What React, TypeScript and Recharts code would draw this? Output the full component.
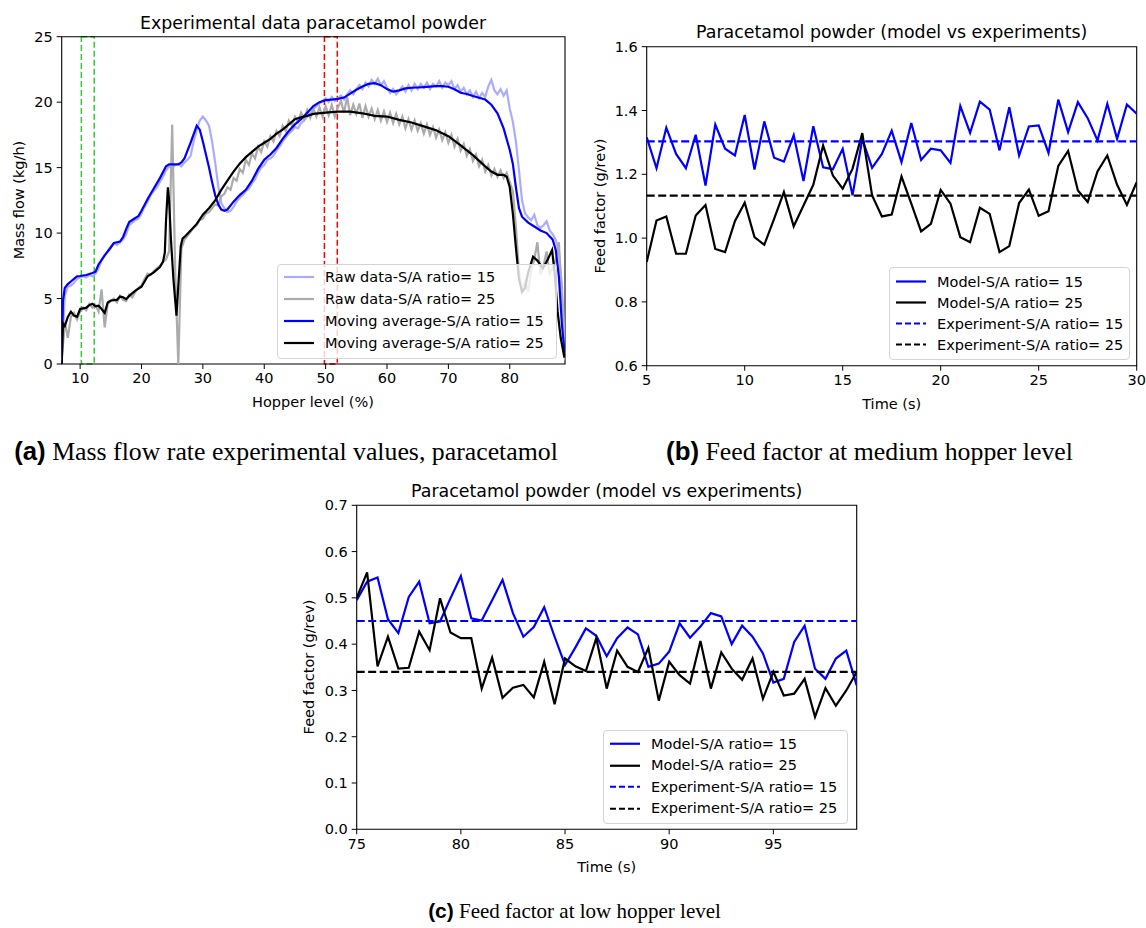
import React from 'react';
import { LineChart, Line, XAxis, YAxis, ReferenceArea, ReferenceLine } from 'recharts';

const SANS = '"DejaVu Sans", Verdana, sans-serif';

// ---- (a) mass flow vs hopper level ----
const hopperRaw = [
  7, 7.5, 8, 8.5, 9, 9.5, 10, 10.5, 11, 11.5,
  12, 12.5, 13, 13.5, 14, 14.5, 15, 15.5, 16, 16.5,
  17, 17.5, 18, 18.5, 19, 19.5, 20, 20.5, 21, 21.5,
  22, 22.5, 23, 23.5, 24, 24.5, 25, 25.5, 26, 26.5,
  27, 27.5, 28, 28.5, 29, 29.5, 30, 30.5, 31, 31.5,
  32, 32.5, 33, 33.5, 34, 34.5, 35, 35.5, 36, 36.5,
  37, 37.5, 38, 38.5, 39, 39.5, 40, 40.5, 41, 41.5,
  42, 42.5, 43, 43.5, 44, 44.5, 45, 45.5, 46, 46.5,
  47, 47.5, 48, 48.5, 49, 49.5, 50, 50.5, 51, 51.5,
  52, 52.5, 53, 53.5, 54, 54.5, 55, 55.5, 56, 56.5,
  57, 57.5, 58, 58.5, 59, 59.5, 60, 60.5, 61, 61.5,
  62, 62.5, 63, 63.5, 64, 64.5, 65, 65.5, 66, 66.5,
  67, 67.5, 68, 68.5, 69, 69.5, 70, 70.5, 71, 71.5,
  72, 72.5, 73, 73.5, 74, 74.5, 75, 75.5, 76, 76.5,
  77, 77.5, 78, 78.5, 79, 79.5, 80, 80.5, 81, 81.5,
  82, 82.5, 83, 83.5, 84, 84.5, 85, 85.5, 86, 86.5,
  87, 87.5, 88, 88.5, 89,
];
const rawFlow15 = [
  0.3, 5.2, 5.9, 6.0, 6.2, 6.5, 6.6, 6.7, 6.6, 6.8,
  6.7, 6.9, 7.3, 7.9, 8.3, 8.6, 9.0, 9.2, 9.1, 9.3,
  9.5, 9.9, 10.6, 10.8, 11.0, 11.1, 11.5, 12.0, 12.4, 12.9,
  13.2, 13.5, 13.9, 14.3, 14.8, 15.1, 15.0, 15.2, 15.3, 15.1,
  15.4, 15.6, 15.9, 17.0, 17.9, 18.6, 18.9, 18.6, 18.2, 17.0,
  15.4, 13.6, 12.3, 11.9, 11.6, 11.7, 12.0, 12.4, 12.7, 12.9,
  13.2, 13.4, 13.8, 14.1, 14.6, 15.0, 15.2, 15.6, 15.7, 15.9,
  16.3, 16.6, 17.0, 17.3, 17.6, 17.8, 18.1, 18.0, 18.4, 18.6,
  18.9, 19.1, 19.5, 19.7, 19.9, 20.1, 20.3, 20.0, 20.4, 20.1,
  20.3, 20.5, 20.2, 20.6, 20.9, 20.6, 21.0, 21.3, 21.0, 21.5,
  21.2, 21.7, 21.4, 21.8, 21.3, 21.6, 21.1, 20.7, 21.0, 20.6,
  20.9, 21.2, 20.8, 21.3, 20.9, 21.4, 21.0, 21.4, 21.1, 21.5,
  21.0, 21.4, 21.2, 21.6, 21.1, 21.5, 21.3, 21.6, 21.0, 21.3,
  20.8, 21.1, 20.6, 20.9, 20.4, 20.8, 20.3, 20.7, 20.4, 21.2,
  21.7, 20.9, 20.6, 21.0, 20.5, 20.9, 19.5, 18.5, 17.0, 14.8,
  12.5, 11.5, 11.2, 11.0, 11.4, 10.6, 10.4, 10.6, 10.9, 10.2,
  9.9, 9.5, 8.5, 6.0, 1.0,
];
const rawFlow25 = [
  0.2, 3.2, 2.0, 3.6, 3.9, 3.4, 4.0, 4.3, 4.1, 4.6,
  4.3, 4.5, 4.0, 5.7, 2.8, 4.6, 4.8, 5.0, 4.7, 5.2,
  4.9, 4.8, 5.3, 5.1, 5.5, 5.8, 6.0, 6.5, 6.9, 6.8,
  7.1, 7.3, 7.5, 7.8, 8.0, 8.6, 18.3, 7.0, 0.0, 8.8,
  9.5, 9.8, 10.1, 10.4, 10.6, 11.0, 11.1, 11.5, 11.6, 11.9,
  12.2, 12.1, 12.8, 13.0, 13.5, 13.3, 14.2, 14.0, 14.9, 14.6,
  15.6, 15.2, 16.1, 15.7, 16.6, 16.2, 17.0, 16.6, 17.4, 17.0,
  17.8, 17.4, 18.2, 17.8, 18.6, 18.2, 18.9, 18.5, 19.2, 18.7,
  19.4, 18.8, 19.5, 18.9, 19.6, 18.9, 19.7, 19.0, 19.8, 18.9,
  19.6, 20.1, 19.2, 20.4, 19.0, 19.8, 19.1, 19.9, 18.8, 19.7,
  18.9, 19.5, 18.7, 19.4, 18.6, 19.3, 18.5, 19.2, 18.4, 19.1,
  18.3, 18.9, 18.0, 18.7, 17.9, 18.6, 17.8, 18.4, 17.6, 18.3,
  17.5, 18.1, 17.3, 17.9, 17.1, 17.7, 16.9, 17.5, 16.6, 17.2,
  16.3, 16.8, 15.9, 16.4, 15.5, 16.0, 15.1, 15.6, 14.7, 15.2,
  14.4, 14.9, 14.3, 14.8, 14.2, 14.6, 13.9, 13.2, 10.5, 7.0,
  5.6, 6.3, 5.5, 7.2, 8.0, 9.3, 6.8, 7.5, 8.6, 6.9,
  7.3, 8.0, 9.3, 5.0, 0.3,
];
const maHopper15 = [
  7, 7.2, 7.5, 8, 8.5, 9, 9.5, 10, 11, 12, 12.5, 13, 14, 15, 15.5, 16, 16.5, 17,
  17.5, 18, 18.5, 19, 19.5, 20, 21, 22, 23, 24, 24.5, 26, 26.5, 27, 28, 29, 29.5,
  30, 30.5, 31, 31.5, 32, 32.5, 33, 33.5, 34, 35, 36, 37, 38,
  39, 40, 41, 42, 43, 44, 45, 46, 47, 48, 49, 50, 51, 52, 53, 54, 55, 56, 57, 58,
  59, 60, 61, 62, 63, 64, 65, 66, 67, 68, 69, 70, 71, 72, 73, 74, 75, 76, 77, 78,
  79, 80, 80.5, 81, 81.5, 82, 83, 84, 85, 86, 87, 87.5, 88, 88.5, 89,
];
const maFlow15 = [
  0, 4.8, 5.8, 6.1, 6.3, 6.5, 6.7, 6.72, 6.8, 6.95, 7.05, 7.6, 8.3, 8.9, 9.25, 9.3, 9.35, 9.7,
  10.3, 10.85, 11.0, 11.15, 11.3, 11.7, 12.6, 13.4, 14.2, 15.1, 15.25, 15.25, 15.4, 15.7, 16.9, 18.2, 17.9,
  17.0, 16.0, 15.0, 13.9, 12.9, 12.2, 11.8, 11.7, 11.8, 12.4, 12.9, 13.3, 14.0,
  14.9, 15.6, 16.0, 16.5, 17.2, 17.8, 18.3, 18.7, 19.2, 19.7, 20.0, 20.15, 20.2, 20.25, 20.35, 20.65, 20.95, 21.2, 21.4, 21.45,
  21.3, 21.0, 20.8, 20.9, 21.05, 21.1, 21.12, 21.15, 21.18, 21.22, 21.22, 21.18, 20.98, 20.72, 20.62, 20.47, 20.34, 20.2, 19.8, 19.15,
  18.0, 16.35, 15.3, 13.5, 11.9, 11.25, 10.8, 10.5, 10.2, 10.0, 9.5, 8.7, 6.7, 3.0, 0.5,
];
const maHopper25 = [
  7, 7.2, 7.5, 8, 8.5, 9, 9.5, 10, 10.5, 11, 11.5, 12, 12.5, 13, 13.5, 14, 14.5, 15, 16, 16.5,
  17, 17.5, 18, 19, 20, 21, 22, 23, 23.5, 23.8, 24, 24.3, 24.5, 24.8, 25.2, 25.7, 26, 26.4, 26.7, 27,
  28, 29, 30, 31, 32, 33, 34, 35, 36, 37, 38, 39, 40, 41, 42, 43, 44, 45, 46, 47, 48,
  50, 52, 54, 56, 58, 60, 62, 64, 66, 68, 70, 72, 74, 76,
  77, 78, 79, 79.5, 80, 80.5, 81, 81.5, 82, 82.5, 83, 83.8, 84.5, 85.4, 86.2, 86.9, 87.3, 87.8, 88.3, 88.9,
];
const maFlow25 = [
  0, 3.1, 2.9, 3.6, 4.0, 3.7, 3.6, 4.2, 4.25, 4.3, 4.5, 4.6, 4.4, 4.45, 4.2, 3.9, 4.7, 4.85, 4.9, 5.15,
  5.1, 4.95, 5.2, 5.6, 5.9, 6.7, 7.0, 7.4, 7.8, 8.5, 11.0, 13.5, 12.5, 9.5, 6.5, 3.7, 6.0, 9.0, 9.6, 9.7,
  10.2, 10.7, 11.4, 11.9, 12.5, 13.3, 14.0, 14.7, 15.3, 15.8, 16.2, 16.6, 16.9, 17.2, 17.6, 17.9, 18.3, 18.7, 18.85, 18.95, 19.1,
  19.2, 19.27, 19.27, 19.15, 18.95, 18.9, 18.65, 18.45, 18.15, 17.85, 17.4, 16.7, 15.95, 15.1,
  14.7, 14.45, 14.45, 14.3, 13.5, 11.5, 8.9, 6.5, 5.5, 5.8, 7.0, 8.2, 7.9, 7.3, 8.0, 8.7, 7.0, 4.0, 2.0, 0.5,
];
const hopperTicks = [10, 20, 30, 40, 50, 60, 70, 80];
const flowTicks = [0, 5, 10, 15, 20, 25];
const lowWindow = [10.2, 12.3];
const medWindow = [49.8, 51.9];

// ---- (b) feed factor, medium hopper level ----
const timeMed = [
  5, 5.5, 6, 6.5, 7, 7.5, 8, 8.5, 9, 9.5, 10, 10.5, 11, 11.5, 12, 12.5, 13, 13.5, 14, 14.5,
  15, 15.5, 16, 16.5, 17, 17.5, 18, 18.5, 19, 19.5, 20, 20.5, 21, 21.5, 22, 22.5, 23, 23.5, 24, 24.5,
  25, 25.5, 26, 26.5, 27, 27.5, 28, 28.5, 29, 29.5, 30,
];
const modelMed15 = [
  1.316, 1.219, 1.346, 1.264, 1.219, 1.324, 1.165, 1.356, 1.28, 1.259, 1.386, 1.215, 1.366, 1.252, 1.24, 1.323, 1.179, 1.351, 1.222, 1.216,
  1.28, 1.134, 1.31, 1.22, 1.264, 1.337, 1.238, 1.361, 1.245, 1.28, 1.275, 1.236, 1.414, 1.33, 1.428, 1.403, 1.275, 1.41, 1.259, 1.35,
  1.353, 1.267, 1.434, 1.332, 1.426, 1.376, 1.306, 1.421, 1.311, 1.419, 1.39,
];
const modelMed25 = [
  0.925, 1.055, 1.068, 0.951, 0.951, 1.071, 1.104, 0.966, 0.956, 1.053, 1.111, 1.003, 0.979, 1.06, 1.144, 1.037, 1.102, 1.167, 1.29, 1.196,
  1.155, 1.217, 1.329, 1.134, 1.068, 1.074, 1.193, 1.108, 1.021, 1.045, 1.151, 1.108, 1.003, 0.987, 1.095, 1.076, 0.956, 0.975, 1.11, 1.152,
  1.07, 1.084, 1.226, 1.273, 1.149, 1.113, 1.209, 1.259, 1.167, 1.104, 1.175,
];
const expMed15 = 1.303;
const expMed25 = 1.133;
const timeMedTicks = [5, 10, 15, 20, 25, 30];
const ffMedTicks = [0.6, 0.8, 1.0, 1.2, 1.4, 1.6];

// ---- (c) feed factor, low hopper level ----
const timeLow = [
  75, 75.5, 76, 76.5, 77, 77.5, 78, 78.5, 79, 79.5, 80, 80.5, 81, 81.5, 82, 82.5, 83, 83.5, 84, 84.5,
  85, 85.5, 86, 86.5, 87, 87.5, 88, 88.5, 89, 89.5, 90, 90.5, 91, 91.5, 92, 92.5, 93, 93.5, 94, 94.5,
  95, 95.5, 96, 96.5, 97, 97.5, 98, 98.5, 99,
];
const modelLow15 = [
  0.495, 0.535, 0.544, 0.454, 0.424, 0.502, 0.535, 0.445, 0.449, 0.499, 0.547, 0.456, 0.451, 0.495, 0.539, 0.467, 0.416, 0.437, 0.48, 0.416,
  0.355, 0.393, 0.434, 0.418, 0.374, 0.413, 0.436, 0.421, 0.351, 0.358, 0.384, 0.445, 0.414, 0.438, 0.467, 0.46, 0.4, 0.44, 0.416, 0.38,
  0.317, 0.325, 0.405, 0.44, 0.347, 0.325, 0.369, 0.386, 0.311,
];
const modelLow25 = [
  0.5, 0.555, 0.352, 0.416, 0.347, 0.349, 0.427, 0.387, 0.499, 0.425, 0.413, 0.413, 0.304, 0.371, 0.284, 0.306, 0.312, 0.285, 0.362, 0.27,
  0.369, 0.352, 0.342, 0.413, 0.304, 0.386, 0.351, 0.34, 0.392, 0.278, 0.362, 0.333, 0.315, 0.407, 0.304, 0.382, 0.347, 0.323, 0.369, 0.282,
  0.34, 0.289, 0.293, 0.325, 0.243, 0.305, 0.267, 0.3, 0.34,
];
const expLow15 = 0.45;
const expLow25 = 0.34;
const timeLowTicks = [75, 80, 85, 90, 95];
const ffLowTicks = [0, 0.1, 0.2, 0.3, 0.4, 0.5, 0.6, 0.7];

const BLUE = '#0000ff';
const BLACK = '#000000';
const RAW15 = '#acacff';
const RAW25 = '#ababab';
const DASH = '8 3.5';

const pair = (xs: number[], ys: number[]) => xs.map((x, i) => ({ x, y: ys[i] }));

const tickStyle = { fontSize: 14.5, fill: '#000', fontFamily: SANS };

function Text({ x, y, size = 14.5, rotate = false, children }: any) {
  return (
    <div
      style={{
        position: 'absolute',
        left: x - 200,
        top: y - 12,
        width: 400,
        height: 24,
        lineHeight: '24px',
        textAlign: 'center',
        fontFamily: SANS,
        fontSize: size,
        color: '#000',
        whiteSpace: 'nowrap',
        transform: rotate ? 'rotate(-90deg)' : undefined,
      }}
    >
      {children}
    </div>
  );
}

function LegendBox({ left, top, width, rowH, padTop, items }: any) {
  return (
    <div
      style={{
        position: 'absolute',
        left,
        top,
        width,
        paddingTop: padTop,
        paddingBottom: 4,
        background: 'rgba(255,255,255,0.8)',
        border: '1px solid #d4d4d4',
        borderRadius: 4,
        boxSizing: 'border-box',
        fontFamily: SANS,
        fontSize: 14.5,
      }}
    >
      {items.map((it: any) => (
        <div key={it.label} style={{ height: rowH, display: 'flex', alignItems: 'center' }}>
          <svg width={42} height={rowH} style={{ marginLeft: 5, flex: 'none' }}>
            <line
              x1={1}
              x2={31}
              y1={rowH / 2}
              y2={rowH / 2}
              stroke={it.color}
              strokeWidth={2.2}
              strokeDasharray={it.dash ? '6 3' : undefined}
            />
          </svg>
          <span style={{ whiteSpace: 'nowrap' }}>{it.label}</span>
        </div>
      ))}
    </div>
  );
}

function Caption({ x, y, size, tag, children }: any) {
  return (
    <div
      style={{
        position: 'absolute',
        left: x - 300,
        top: y - 16,
        width: 600,
        height: 32,
        lineHeight: '32px',
        textAlign: 'center',
        whiteSpace: 'nowrap',
        fontSize: size,
        color: '#000',
      }}
    >
      <span style={{ fontFamily: '"Liberation Sans", Arial, sans-serif', fontWeight: 'bold' }}>{tag}</span>{' '}
      <span style={{ fontFamily: '"Liberation Serif", "Times New Roman", serif' }}>{children}</span>
    </div>
  );
}

function MassFlowPanel() {
  return (
    <div style={{ position: 'absolute', left: 0, top: 0 }}>
      <LineChart width={575} height={420} margin={{ top: 36.7, right: 10, left: 11.7, bottom: 26 }}>
        <XAxis
          type="number"
          dataKey="x"
          domain={[7, 89]}
          ticks={hopperTicks}
          interval={0}
          allowDataOverflow
          axisLine={false}
          tickSize={5}
          tickMargin={4}
          tickLine={{ stroke: '#000' }}
          tick={tickStyle}
          height={30}
        />
        <YAxis
          type="number"
          domain={[0, 25]}
          ticks={flowTicks}
          interval={0}
          allowDataOverflow
          axisLine={false}
          tickSize={5}
          tickMargin={4}
          tickLine={{ stroke: '#000' }}
          tick={tickStyle}
          width={50}
        />
        <Line data={pair(hopperRaw, rawFlow15)} dataKey="y" stroke={RAW15} strokeWidth={2.2} dot={false} isAnimationActive={false} />
        <Line data={pair(hopperRaw, rawFlow25)} dataKey="y" stroke={RAW25} strokeWidth={2.2} dot={false} isAnimationActive={false} />
        <Line data={pair(maHopper15, maFlow15)} dataKey="y" stroke={BLUE} strokeWidth={2.2} dot={false} isAnimationActive={false} />
        <Line data={pair(maHopper25, maFlow25)} dataKey="y" stroke={BLACK} strokeWidth={2.2} dot={false} isAnimationActive={false} />
        <ReferenceArea x1={lowWindow[0]} x2={lowWindow[1]} y1={0} y2={25} fill="none" stroke="#33cc33" strokeWidth={1.5} strokeDasharray="6 3" />
        <ReferenceArea x1={medWindow[0]} x2={medWindow[1]} y1={0} y2={25} fill="none" stroke="#ff0000" strokeWidth={1.5} strokeDasharray="6 3" />
        <ReferenceArea x1={7} x2={89} y1={0} y2={25} fill="none" stroke="#000" strokeWidth={1.1} />
      </LineChart>
    </div>
  );
}

function FeedPanel({ left, top, width, height, margin, time, m15, m25, e15, e25, domainX, domainY, xTicks, yTicks }: any) {
  const data = time.map((t: number, i: number) => ({ x: t, m15: m15[i], m25: m25[i] }));
  return (
    <div style={{ position: 'absolute', left, top }}>
      <LineChart width={width} height={height} data={data} margin={margin}>
        <XAxis
          type="number"
          dataKey="x"
          domain={domainX}
          ticks={xTicks}
          interval={0}
          allowDataOverflow
          axisLine={false}
          tickSize={5}
          tickMargin={4}
          tickLine={{ stroke: '#000' }}
          tick={tickStyle}
          height={30}
        />
        <YAxis
          type="number"
          domain={domainY}
          ticks={yTicks}
          interval={0}
          allowDataOverflow
          axisLine={false}
          tickSize={5}
          tickMargin={4}
          tickLine={{ stroke: '#000' }}
          tick={tickStyle}
          tickFormatter={(v: number) => v.toFixed(1)}
          width={50}
        />
        <Line dataKey="m15" stroke={BLUE} strokeWidth={2.2} dot={false} isAnimationActive={false} />
        <Line dataKey="m25" stroke={BLACK} strokeWidth={2.2} dot={false} isAnimationActive={false} />
        <ReferenceLine y={e15} stroke={BLUE} strokeWidth={2.2} strokeDasharray={DASH} />
        <ReferenceLine y={e25} stroke={BLACK} strokeWidth={2.2} strokeDasharray={DASH} />
        <ReferenceArea x1={domainX[0]} x2={domainX[1]} y1={domainY[0]} y2={domainY[1]} fill="none" stroke="#000" strokeWidth={1.1} />
      </LineChart>
    </div>
  );
}

const feedLegend = [
  { label: 'Model-S/A ratio= 15', color: BLUE },
  { label: 'Model-S/A ratio= 25', color: BLACK },
  { label: 'Experiment-S/A ratio= 15', color: BLUE, dash: true },
  { label: 'Experiment-S/A ratio= 25', color: BLACK, dash: true },
];

export default function App() {
  return (
    <div style={{ position: 'absolute', left: 0, top: 0, width: 1146, height: 928, background: '#fff', overflow: 'hidden' }}>
      {/* (a) */}
      <MassFlowPanel />
      <Text x={313} y={22.5} size={17.4}>Experimental data paracetamol powder</Text>
      <Text x={313} y={402}>Hopper level (%)</Text>
      <Text x={18.5} y={200} rotate>Mass flow (kg/h)</Text>
      <LegendBox
        left={277}
        top={264}
        width={280}
        rowH={22}
        padTop={1}
        items={[
          { label: 'Raw data-S/A ratio= 15', color: RAW15 },
          { label: 'Raw data-S/A ratio= 25', color: RAW25 },
          { label: 'Moving average-S/A ratio= 15', color: BLUE },
          { label: 'Moving average-S/A ratio= 25', color: BLACK },
        ]}
      />
      <Caption x={286} y={451} size={25.8} tag="(a)">Mass flow rate experimental values, paracetamol</Caption>

      {/* (b) */}
      <FeedPanel
        left={590}
        top={0}
        width={556}
        height={420}
        margin={{ top: 46.7, right: 9.3, left: 6.7, bottom: 24.3 }}
        time={timeMed}
        m15={modelMed15}
        m25={modelMed25}
        e15={expMed15}
        e25={expMed25}
        domainX={[5, 30]}
        domainY={[0.6, 1.6]}
        xTicks={timeMedTicks}
        yTicks={ffMedTicks}
      />
      <Text x={891.7} y={32} size={17.4}>Paracetamol powder (model vs experiments)</Text>
      <Text x={891.7} y={404}>Time (s)</Text>
      <Text x={599.5} y={206} rotate>Feed factor (g/rev)</Text>
      <LegendBox left={889} top={267} width={241} rowH={21} padTop={3} items={feedLegend} />
      <Caption x={869.5} y={451} size={25.8} tag="(b)">Feed factor at medium hopper level</Caption>

      {/* (c) */}
      <FeedPanel
        left={300}
        top={470}
        width={570}
        height={400}
        margin={{ top: 35.3, right: 13.3, left: 6.7, bottom: 10.7 }}
        time={timeLow}
        m15={modelLow15}
        m25={modelLow25}
        e15={expLow15}
        e25={expLow25}
        domainX={[75, 99]}
        domainY={[0, 0.7]}
        xTicks={timeLowTicks}
        yTicks={ffLowTicks}
      />
      <Text x={606.7} y={491} size={17.4}>Paracetamol powder (model vs experiments)</Text>
      <Text x={606.7} y={867}>Time (s)</Text>
      <Text x={308.5} y={667} rotate>Feed factor (g/rev)</Text>
      <LegendBox left={603} top={730} width={245} rowH={21.5} padTop={2} items={feedLegend} />
      <Caption x={574.5} y={911} size={21} tag="(c)">Feed factor at low hopper level</Caption>
    </div>
  );
}
